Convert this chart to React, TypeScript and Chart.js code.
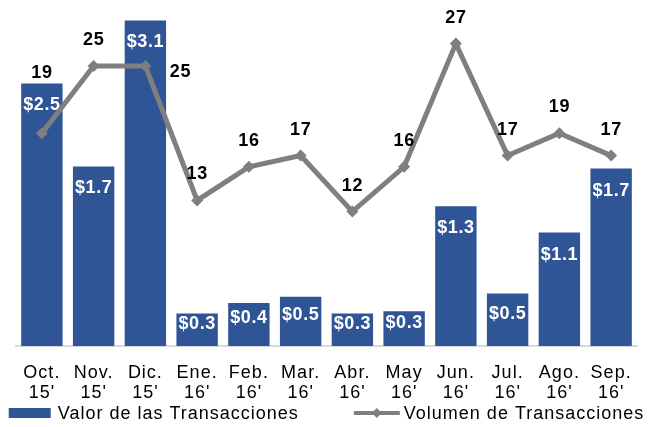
import React, { useEffect, useRef } from "react";
import { Chart, registerables } from "chart.js";

Chart.register(...registerables);

const monthLabels = ["Oct.", "Nov.", "Dic.", "Ene.", "Feb.", "Mar.", "Abr.", "May", "Jun.", "Jul.", "Ago.", "Sep."];
const yearLabels = ["15'", "15'", "15'", "16'", "16'", "16'", "16'", "16'", "16'", "16'", "16'", "16'"];
const valorTransacciones = [2.5, 1.71, 3.1, 0.31, 0.41, 0.47, 0.31, 0.33, 1.33, 0.5, 1.08, 1.69];
const volumenTransacciones = [19, 25, 25, 13, 16, 17, 12, 16, 27, 17, 19, 17];
const seriesNames = ["Valor de las Transacciones", "Volumen de Transacciones"];

const FONT = '"Liberation Sans", Arial, sans-serif';
const BAR_COLOR = "#2F5597";
const LINE_COLOR = "#7F7F7F";

// label placement tweaks for the line labels (style, not data)
const lineLabelShift: Record<number, { dx: number; dy: number }> = {
  0: { dx: 0, dy: -60 },
  2: { dx: 35, dy: 6 },
};

const spacingPlugin = {
  id: "spacing",
  beforeUpdate(chart: any) {
    chart.ctx.letterSpacing = "1px";
  },
  beforeDraw(chart: any) {
    chart.ctx.letterSpacing = "1px";
  },
};

const labelsPlugin = {
  id: "valueLabels",
  afterDatasetDraw(chart: any, args: any) {
    const ctx = chart.ctx;
    const ds = chart.data.datasets[args.index];
    const meta = args.meta;
    ctx.save();
    ctx.textAlign = "center";
    ctx.textBaseline = "middle";
    if (ds.type === "bar") {
      ctx.font = `bold 18px ${FONT}`;
      ctx.letterSpacing = "0.5px";
      ctx.fillStyle = "#FFFFFF";
      meta.data.forEach((el: any, i: number) => {
        const { x, y, base } = el.getProps(["x", "y", "base"], true);
        const h = base - y;
        const cy = y + Math.min(22, h / 2 - 6);
        ctx.fillText("$" + Number(ds.data[i]).toFixed(1), x, cy);
      });
    } else {
      ctx.font = `bold 18px ${FONT}`;
      ctx.letterSpacing = "0.5px";
      ctx.fillStyle = "#000000";
      meta.data.forEach((el: any, i: number) => {
        const { x, y } = el.getProps(["x", "y"], true);
        const s = lineLabelShift[i] || { dx: 0, dy: -26 };
        ctx.fillText(String(ds.data[i]), x + s.dx, y + s.dy);
      });
    }
    ctx.restore();
  },
};

const legendPlugin = {
  id: "customLegend",
  afterDraw(chart: any) {
    const ctx = chart.ctx;
    ctx.save();
    ctx.font = `18px ${FONT}`;
    ctx.letterSpacing = "1px";
    ctx.textBaseline = "middle";
    ctx.textAlign = "left";
    const y = 413;
    const box1 = 42, gap1 = 7, box2 = 46, gap2 = 4, between = 55;
    const w1 = ctx.measureText(seriesNames[0]).width;
    const w2 = ctx.measureText(seriesNames[1]).width;
    const total = box1 + gap1 + w1 + between + box2 + gap2 + w2;
    let x = (chart.width - total) / 2 - 1;
    ctx.fillStyle = BAR_COLOR;
    ctx.fillRect(x, y - 5, box1, 10);
    ctx.fillStyle = "#000";
    ctx.fillText(seriesNames[0], x + box1 + gap1, y + 1);
    x = x + box1 + gap1 + w1 + between;
    ctx.strokeStyle = LINE_COLOR;
    ctx.lineWidth = 4;
    ctx.beginPath();
    ctx.moveTo(x, y);
    ctx.lineTo(x + box2, y);
    ctx.stroke();
    ctx.fillStyle = LINE_COLOR;
    const cx = x + box2 / 2;
    ctx.beginPath();
    ctx.moveTo(cx, y - 5);
    ctx.lineTo(cx + 5, y);
    ctx.lineTo(cx, y + 5);
    ctx.lineTo(cx - 5, y);
    ctx.closePath();
    ctx.fill();
    ctx.fillStyle = "#000";
    ctx.fillText(seriesNames[1], x + box2 + gap2, y + 1);
    ctx.restore();
  },
};

export default function App() {
  const ref = useRef<HTMLCanvasElement | null>(null);
  useEffect(() => {
    if (!ref.current) return;
    const chart = new Chart(ref.current, {
      type: "bar",
      data: {
        labels: monthLabels.map((m, i) => [m, yearLabels[i]]),
        datasets: [
          {
            type: "line",
            label: seriesNames[1],
            data: volumenTransacciones,
            yAxisID: "y1",
            borderColor: LINE_COLOR,
            backgroundColor: LINE_COLOR,
            borderWidth: 5,
            pointStyle: "rectRot",
            pointRadius: 6,
            pointBackgroundColor: LINE_COLOR,
            pointBorderColor: LINE_COLOR,
            pointBorderWidth: 0,
            tension: 0,
            order: 0,
          } as any,
          {
            type: "bar",
            label: seriesNames[0],
            data: valorTransacciones,
            yAxisID: "y",
            backgroundColor: BAR_COLOR,
            borderWidth: 0,
            categoryPercentage: 0.8,
            barPercentage: 1,
            order: 1,
          } as any,
        ],
      },
      options: {
        responsive: false,
        animation: false,
        devicePixelRatio: 1,
        layout: { padding: { top: 10, bottom: 7, left: 0, right: 0 } },
        plugins: { legend: { display: false }, tooltip: { enabled: false } },
        scales: {
          x: {
            grid: { display: false, drawTicks: false },
            border: { display: true, color: "#D9D9D9", width: 2 },
            ticks: {
              color: "#000",
              font: { family: FONT, size: 18, lineHeight: 1.111 },
              padding: 17,
              maxRotation: 0,
              autoSkip: false,
            },
          },
          y: {
            position: "left",
            min: 0,
            max: 3.2,
            grid: { display: false, drawTicks: false },
            border: { display: false },
            ticks: { display: false },
            afterFit(a: any) {
              a.width = 16;
            },
          },
          y1: {
            position: "right",
            min: 0,
            max: 30,
            grid: { display: false, drawTicks: false },
            border: { display: false },
            ticks: { display: false },
            afterFit(a: any) {
              a.width = 18;
            },
          },
        },
      } as any,
      plugins: [spacingPlugin, labelsPlugin, legendPlugin],
    });
    return () => chart.destroy();
  }, []);
  return (
    <div style={{ position: "absolute", left: 0, top: 0, width: 655, height: 427, background: "#fff" }}>
      <canvas ref={ref} width={655} height={427} style={{ display: "block" }} />
    </div>
  );
}
